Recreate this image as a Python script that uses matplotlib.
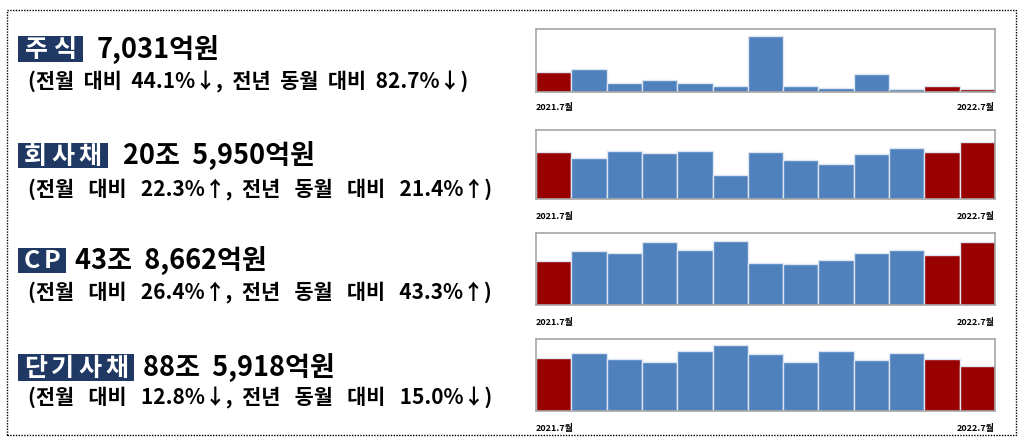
import matplotlib
matplotlib.use("Agg")
import matplotlib.pyplot as plt
from matplotlib.patches import Rectangle

plt.rcParams["font.family"] = ["Noto Sans CJK KR", "DejaVu Sans"]

# ── data (억원, monthly 2021.7 ~ 2022.7) ────────────────────────────────────
months = ["2021.7", "2021.8", "2021.9", "2021.10", "2021.11", "2021.12", "2022.1",
          "2022.2", "2022.3", "2022.4", "2022.5", "2022.6", "2022.7"]

stock = [40642, 46000, 19000, 23700, 17600, 12200, 111700,
         12900, 7400, 35200, 5400, 12580, 7031]
corp_bond = [169646, 147200, 174800, 166400, 174800, 86200, 168800,
             140000, 128100, 164000, 185500, 168397, 205950]
cp = [306114, 380000, 363600, 441000, 387100, 450400, 295600,
      288600, 312000, 363600, 384700, 347043, 438662]
short_bond = [1042256, 1141800, 1017100, 958100, 1181200, 1299300, 1122100,
              958100, 1181200, 1004000, 1141800, 1015961, 885918]

labels = ["주식", "회사채", "CP", "단기사채"]
amounts = ["7,031억원", "20조  5,950억원", "43조  8,662억원", "88조  5,918억원"]
changes = [
    "(전월  대비  44.1%↓,  전년  동월  대비  82.7%↓)",
    "(전월   대비   22.3%↑,  전년   동월   대비   21.4%↑)",
    "(전월   대비   26.4%↑,  전년   동월   대비   43.3%↑)",
    "(전월   대비   12.8%↓,  전년   동월   대비   15.0%↓)",
]
series = [stock, corp_bond, cp, short_bond]
ytop = [126600, 249000, 504400, 1410800]

# ── layout (pixels of a 1029x442 canvas) ─────────────────────────────────────
W, H = 1029, 442
ax_boxes = [(536, 29, 92), (536, 130, 199), (536, 233, 305), (536, 339, 411)]  # left, top, bottom
ax_right = 995
label_boxes = [(18, 83, 36, 62), (18, 108, 143, 168), (18, 66, 248, 273), (18, 134, 354, 381)]
amount_x = [97, 123, 75, 143]
sub_y = [82, 189, 292, 398]

BLUE = "#4F81BD"
RED = "#990000"
NAVY = "#1F3864"

fig = plt.figure(figsize=(W / 100, H / 100), dpi=100)

# dotted outer frame
fig.patches.append(Rectangle((7 / W, 1 - 435 / H), (1016 - 7) / W, (435 - 10) / H,
                             transform=fig.transFigure, fill=False,
                             edgecolor="black", lw=1, ls=(0, (1, 1))))

for i, vals in enumerate(series):
    left, top, bottom = ax_boxes[i]
    ax = fig.add_axes([left / W, 1 - bottom / H, (ax_right - left) / W, (bottom - top) / H])
    colors = [RED] + [BLUE] * (len(vals) - 3) + [RED, RED]
    ax.bar(range(len(vals)), vals, width=1.0, color=colors,
           edgecolor="#DCE6F2", linewidth=1.0)
    ax.set_xlim(-0.5, len(vals) - 0.5)
    ax.set_ylim(0, ytop[i])
    ax.set_xticks([])
    ax.set_yticks([])
    for s in ax.spines.values():
        s.set_color("#A6A6A6")
        s.set_linewidth(1.2)

    ax.text(0, -0.25, months[0] + "월", transform=ax.transAxes, ha="left", va="center",
            fontsize=6.5, fontweight="bold")
    ax.text(1, -0.25, months[-1] + "월", transform=ax.transAxes, ha="right", va="center",
            fontsize=6.5, fontweight="bold")

    # left text panel: navy tag (letters spread over the box), amount, change line
    x0, x1, y0, y1 = label_boxes[i]
    fig.patches.append(Rectangle((x0 / W, 1 - y1 / H), (x1 - x0) / W, (y1 - y0) / H,
                                 transform=fig.transFigure, facecolor=NAVY, edgecolor="none"))
    yc = 1 - (y0 + y1) / 2 / H
    n = len(labels[i])
    step = (x1 - x0 - 8) / n
    for k, ch in enumerate(labels[i]):
        fig.text((x0 + 4 + (k + 0.5) * step) / W, yc - 1 / H, ch, ha="center", va="center",
                 fontsize=18, fontweight="bold", color="white")
    fig.text(amount_x[i] / W, yc, amounts[i], ha="left", va="center",
             fontsize=19.5, fontweight="bold", color="black")
    fig.text(28 / W, 1 - sub_y[i] / H, changes[i], ha="left", va="center",
             fontsize=15, fontweight="bold", color="black")

fig.savefig("out.png", dpi=100)
